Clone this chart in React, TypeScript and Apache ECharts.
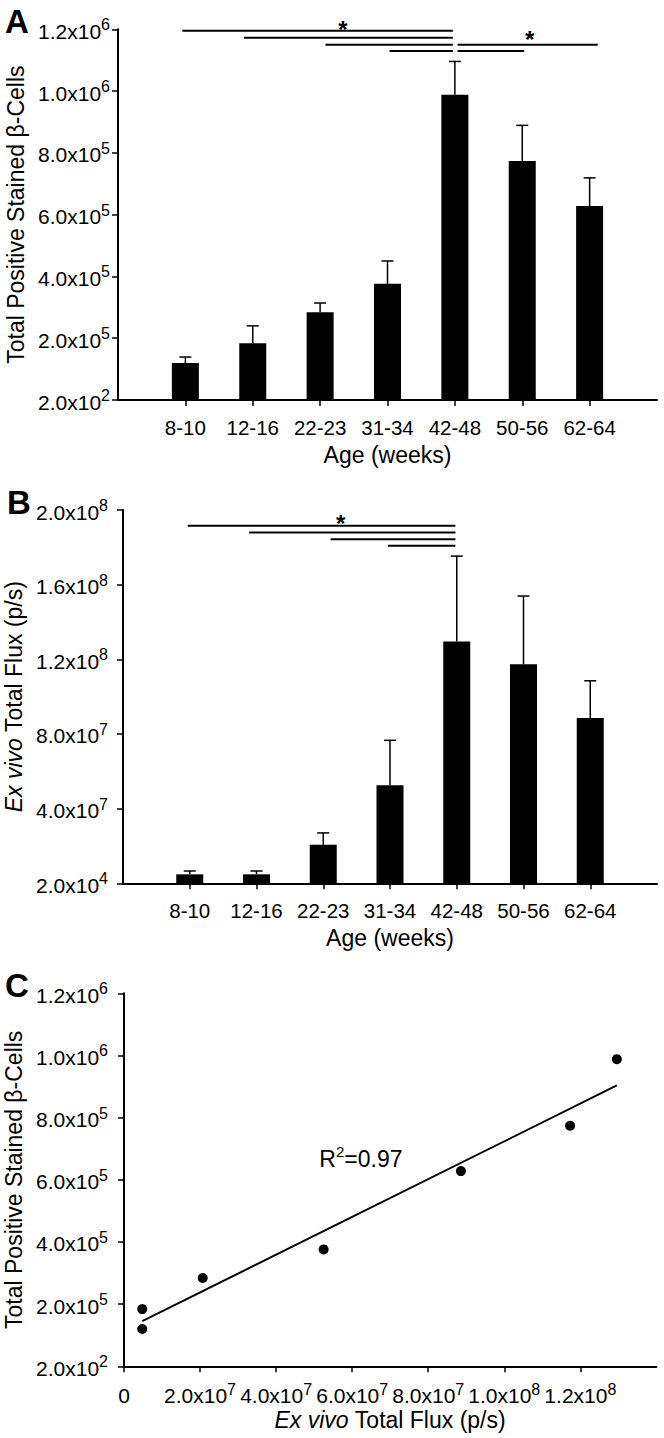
import React, { useEffect, useRef } from "react";
import * as echarts from "echarts";

const FONT = '"Liberation Sans", Arial, Helvetica, sans-serif';

// ---- data ----
const ageGroups = ["8-10", "12-16", "22-23", "31-34", "42-48", "50-56", "62-64"];
const cellMeans = [1.2e5, 1.84e5, 2.84e5, 3.76e5, 9.88e5, 7.74e5, 6.28e5];
const cellSE = [1.9e4, 5.6e4, 3.0e4, 7.4e4, 1.08e5, 1.15e5, 9.1e4];
const fluxMeans = [4.8e6, 4.8e6, 2.07e7, 5.25e7, 1.296e8, 1.173e8, 8.86e7];
const fluxSE = [1.8e6, 1.8e6, 6.3e6, 2.41e7, 4.57e7, 3.66e7, 1.99e7];

// tick values and their printed labels
const cellTicks = [0, 2e5, 4e5, 6e5, 8e5, 1e6, 1.2e6];
const cellTickLabels = ["2.0x10^2", "2.0x10^5", "4.0x10^5", "6.0x10^5", "8.0x10^5", "1.0x10^6", "1.2x10^6"];
const fluxTicks = [0, 4e7, 8e7, 1.2e8, 1.6e8, 2e8];
const fluxTickLabels = ["2.0x10^4", "4.0x10^7", "8.0x10^7", "1.2x10^8", "1.6x10^8", "2.0x10^8"];
const fluxXTicks = [0, 2e7, 4e7, 6e7, 8e7, 1e8, 1.2e8];
const fluxXTickLabels = ["0", "2.0x10^7", "4.0x10^7", "6.0x10^7", "8.0x10^7", "1.0x10^8", "1.2x10^8"];

// significance brackets: [xStart, xEnd, y] in axis units (group positions 1..7)
const sigLinesA = [
  [0.955, 4.97, 1.1955e6],
  [1.87, 4.97, 1.1728e6],
  [3.08, 4.97, 1.15e6],
  [4.03, 4.97, 1.1297e6],
  [5.04, 7.12, 1.15e6],
  [5.04, 6.03, 1.1297e6],
];
const starsA = [
  [3.34, 1.198e6],
  [6.11, 1.167e6],
];
const sigLinesB = [
  [0.97, 4.98, 1.9157e8],
  [1.89, 4.98, 1.88e8],
  [3.11, 4.98, 1.8428e8],
  [3.97, 4.98, 1.8085e8],
];
const starsB = [[3.26, 1.929e8]];

const r2Text = "0.97";
const r2Pos = [6.23e7, 6.73e5];

// ---- helpers ----
function supLabel(s: string) {
  const [m, e] = s.split("^");
  return e ? `{b|${m}}{s|${e}}` : `{b|${m}}`;
}
const richSup = {
  b: { fontSize: 21, lineHeight: 25, verticalAlign: "bottom", fontFamily: FONT, color: "#000" },
  s: { fontSize: 16, lineHeight: 17, verticalAlign: "top", fontFamily: FONT, color: "#000" },
};

function tickFormatter(ticks: number[], labels: string[], span: number) {
  return (v: number) => {
    const i = ticks.findIndex((t) => Math.abs(t - v) < span * 1e-6);
    return i >= 0 ? supLabel(labels[i]) : "";
  };
}

const axisLine = { show: true, lineStyle: { color: "#000", width: 2 } };
const axisTick = { show: true, length: 6, lineStyle: { color: "#000", width: 1.5 } };

function valueYAxis(gridIndex: number, max: number, interval: number, ticks: number[], labels: string[], margin: number, name: string, nameGap: number) {
  return {
    type: "value",
    gridIndex,
    min: 0,
    max,
    interval,
    axisLine,
    axisTick,
    splitLine: { show: false },
    axisLabel: {
      margin,
      formatter: tickFormatter(ticks, labels, max),
      rich: richSup,
    },
    name,
    nameLocation: "middle",
    nameRotate: 90,
    nameGap,
    nameTextStyle: {
      fontSize: 23,
      fontFamily: FONT,
      color: "#000",
      rich: { i: { fontSize: 23, fontStyle: "italic", fontFamily: FONT, color: "#000" } },
    },
  };
}

function ageXAxis(gridIndex: number) {
  const positions = ageGroups.map((_, i) => i + 1);
  return {
    type: "value",
    gridIndex,
    min: 0,
    max: ageGroups.length + 1,
    interval: 1,
    axisLine,
    axisTick: { ...axisTick, customValues: positions },
    splitLine: { show: false },
    axisLabel: {
      customValues: positions,
      margin: 17,
      fontSize: 20.5,
      fontFamily: FONT,
      color: "#000",
      formatter: (v: number) => ageGroups[Math.round(v) - 1] ?? "",
    },
    name: "Age (weeks)",
    nameLocation: "middle",
    nameGap: 43,
    nameTextStyle: { fontSize: 23, fontFamily: FONT, color: "#000" },
  };
}

function errorSeries(axisIndex: number, means: number[], se: number[]) {
  return {
    type: "custom",
    xAxisIndex: axisIndex,
    yAxisIndex: axisIndex,
    clip: false,
    encode: { x: 0, y: 1 },
    data: means.map((m, i) => [i + 1, m, se[i]]),
    renderItem: (_p: any, api: any) => {
      const x = api.value(0);
      const m = api.value(1);
      const e = api.value(2);
      const p0 = api.coord([x, m]);
      const p1 = api.coord([x, m + e]);
      return {
        type: "group",
        children: [
          { type: "line", shape: { x1: p0[0], y1: p0[1], x2: p1[0], y2: p1[1] }, style: { stroke: "#000", lineWidth: 1.5 } },
          { type: "line", shape: { x1: p1[0] - 6, y1: p1[1], x2: p1[0] + 6, y2: p1[1] }, style: { stroke: "#000", lineWidth: 1.5 } },
        ],
      };
    },
  };
}

function sigSeries(axisIndex: number, lines: number[][]) {
  return {
    type: "custom",
    xAxisIndex: axisIndex,
    yAxisIndex: axisIndex,
    clip: false,
    encode: { x: [0, 1], y: 2 },
    data: lines,
    renderItem: (_p: any, api: any) => {
      const a = api.coord([api.value(0), api.value(2)]);
      const b = api.coord([api.value(1), api.value(2)]);
      return { type: "line", shape: { x1: a[0], y1: a[1], x2: b[0], y2: b[1] }, style: { stroke: "#000", lineWidth: 2 } };
    },
  };
}

function starSeries(axisIndex: number, stars: number[][]) {
  return {
    type: "custom",
    xAxisIndex: axisIndex,
    yAxisIndex: axisIndex,
    clip: false,
    encode: { x: 0, y: 1 },
    data: stars,
    renderItem: (_p: any, api: any) => {
      const p = api.coord([api.value(0), api.value(1)]);
      return {
        type: "text",
        x: p[0],
        y: p[1],
        style: { text: "*", fontSize: 24, fontWeight: "bold", fontFamily: FONT, fill: "#000", align: "center", verticalAlign: "middle" },
      };
    },
  };
}

export default function App() {
  const ref = useRef<HTMLDivElement>(null);

  useEffect(() => {
    if (!ref.current) return;
    const chart = echarts.init(ref.current, undefined, { renderer: "svg" });

    // least-squares fit of cell count vs flux
    const pts = fluxMeans.map((x, i) => [x, cellMeans[i]]);
    const n = pts.length;
    const mx = pts.reduce((s, p) => s + p[0], 0) / n;
    const my = pts.reduce((s, p) => s + p[1], 0) / n;
    let sxy = 0;
    let sxx = 0;
    pts.forEach((p) => {
      sxy += (p[0] - mx) * (p[1] - my);
      sxx += (p[0] - mx) * (p[0] - mx);
    });
    const slope = sxy / sxx;
    const icpt = my - slope * mx;
    const xMin = Math.min(...fluxMeans);
    const xMax = Math.max(...fluxMeans);
    const fit = [
      [xMin, icpt + slope * xMin],
      [xMax, icpt + slope * xMax],
    ];

    const letter = (t: string, x: number, y: number) => ({
      type: "text",
      x,
      y,
      style: { text: t, fontSize: 33, fontWeight: "bold", fontFamily: FONT, fill: "#000", verticalAlign: "middle" },
    });

    const option: any = {
      animation: false,
      backgroundColor: "#fff",
      textStyle: { fontFamily: FONT, color: "#000" },
      grid: [
        { left: 118, top: 29.3, width: 539, height: 370.7, outerBoundsMode: "none" },
        { left: 123, top: 510, width: 534, height: 373.3, outerBoundsMode: "none" },
        { left: 124, top: 993.3, width: 532.4, height: 373, outerBoundsMode: "none" },
      ],
      xAxis: [
        ageXAxis(0),
        ageXAxis(1),
        {
          type: "value",
          gridIndex: 2,
          min: 0,
          max: 1.4e8,
          interval: 2e7,
          axisLine,
          axisTick: { ...axisTick, customValues: fluxXTicks },
          splitLine: { show: false },
          axisLabel: {
            customValues: fluxXTicks,
            margin: 15,
            formatter: tickFormatter(fluxXTicks, fluxXTickLabels, 1.4e8),
            rich: richSup,
          },
          name: "{i|Ex vivo} Total Flux (p/s)",
          nameLocation: "middle",
          nameGap: 42,
          nameTextStyle: {
            fontSize: 23,
            fontFamily: FONT,
            color: "#000",
            rich: { i: { fontSize: 23, fontStyle: "italic", fontFamily: FONT, color: "#000" } },
          },
        },
      ],
      yAxis: [
        valueYAxis(0, 1.2e6, 2e5, cellTicks, cellTickLabels, 8, "Total Positive Stained β-Cells", 86),
        valueYAxis(1, 2e8, 4e7, fluxTicks, fluxTickLabels, 15, "{i|Ex vivo} Total Flux (p/s)", 91),
        valueYAxis(2, 1.2e6, 2e5, cellTicks, cellTickLabels, 16, "Total Positive Stained β-Cells", 92),
      ],
      graphic: [letter("A", 5, 21), letter("B", 7, 502.5), letter("C", 5, 985)],
      series: [
        {
          type: "bar",
          xAxisIndex: 0,
          yAxisIndex: 0,
          barWidth: 27,
          itemStyle: { color: "#000" },
          data: cellMeans.map((v, i) => [i + 1, v]),
        },
        errorSeries(0, cellMeans, cellSE),
        sigSeries(0, sigLinesA),
        starSeries(0, starsA),
        {
          type: "bar",
          xAxisIndex: 1,
          yAxisIndex: 1,
          barWidth: 27,
          itemStyle: { color: "#000" },
          data: fluxMeans.map((v, i) => [i + 1, v]),
        },
        errorSeries(1, fluxMeans, fluxSE),
        sigSeries(1, sigLinesB),
        starSeries(1, starsB),
        {
          type: "scatter",
          xAxisIndex: 2,
          yAxisIndex: 2,
          symbolSize: 10,
          itemStyle: { color: "#000", opacity: 1 },
          data: pts,
          z: 3,
        },
        {
          type: "line",
          xAxisIndex: 2,
          yAxisIndex: 2,
          symbol: "none",
          lineStyle: { color: "#000", width: 2 },
          data: fit,
        },
        {
          type: "custom",
          xAxisIndex: 2,
          yAxisIndex: 2,
          clip: false,
          encode: { x: 0, y: 1 },
          data: [r2Pos],
          renderItem: (_p: any, api: any) => {
            const p = api.coord([api.value(0), api.value(1)]);
            return {
              type: "text",
              x: p[0],
              y: p[1],
              style: {
                text: `{r|R}{s|2}{r|=${r2Text}}`,
                align: "center",
                verticalAlign: "middle",
                rich: {
                  r: { fontSize: 23, lineHeight: 26, verticalAlign: "bottom", fontFamily: FONT, fill: "#000" },
                  s: { fontSize: 15, lineHeight: 17, verticalAlign: "top", fontFamily: FONT, fill: "#000" },
                },
              },
            };
          },
        },
      ],
    };
    chart.setOption(option);
    return () => chart.dispose();
  }, []);

  return <div ref={ref} style={{ position: "absolute", left: 0, top: 0, width: 664, height: 1438, background: "#fff" }} />;
}
